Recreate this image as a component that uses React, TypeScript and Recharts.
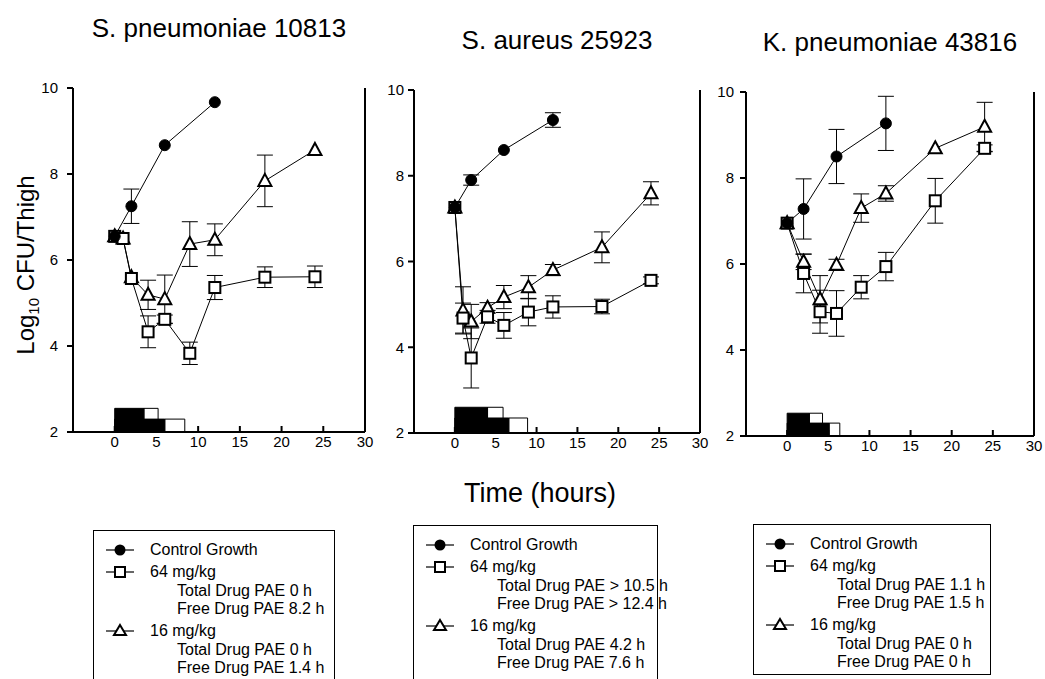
import React from 'react';
import {
  ComposedChart, Line, XAxis, YAxis, ReferenceArea, ReferenceLine, ErrorBar,
} from 'recharts';

const FONT = '"Liberation Sans", Arial, Helvetica, sans-serif';

const xTicks = [0, 5, 10, 15, 20, 25, 30];
const yTicks = [2, 4, 6, 8, 10];

// S. pneumoniae 10813
const spnCtrlT = [0, 2, 6, 12];
const spnCtrl = [6.55, 7.25, 8.67, 9.67];
const spnCtrlErr = [0, 0.4, 0, 0];
const spnT = [0, 1, 2, 4, 6, 9, 12, 18, 24];
const spn64 = [6.55, 6.5, 5.57, 4.33, 4.62, 3.83, 5.36, 5.6, 5.61];
const spn64Err = [0, 0, 0, 0.37, 0.1, 0.26, 0.28, 0.24, 0.25];
const spn16 = [6.55, 6.5, 5.6, 5.19, 5.09, 6.37, 6.47, 7.84, 8.56];
const spn16Err = [0, 0, 0, 0.34, 0.56, 0.52, 0.37, 0.6, 0];
// [black end, white end, height] for the upper and lower exposure bars
const spnBarHigh = [3.5, 5.2, 2.55];
const spnBarLow = [6, 8.4, 2.3];
const spn64Text = ['Total Drug PAE 0 h', 'Free Drug PAE 8.2 h'];
const spn16Text = ['Total Drug PAE 0 h', 'Free Drug PAE 1.4 h'];

// S. aureus 25923
const sauCtrlT = [0, 2, 6, 12];
const sauCtrl = [7.26, 7.9, 8.6, 9.3];
const sauCtrlErr = [0, 0.12, 0, 0.17];
const sauT = [0, 1, 2, 4, 6, 9, 12, 18, 24];
const sau64 = [7.26, 4.68, 3.75, 4.71, 4.51, 4.82, 4.94, 4.95, 5.56];
const sau64Err = [0, 0.35, 0.7, 0.15, 0.3, 0.32, 0.26, 0.17, 0.08];
const sau16 = [7.26, 4.86, 4.6, 4.92, 5.17, 5.4, 5.8, 6.33, 7.59];
const sau16Err = [0, 0.55, 0.4, 0.12, 0.27, 0.27, 0.13, 0.36, 0.27];
const sauBarHigh = [4, 5.9, 2.6];
const sauBarLow = [6.6, 8.9, 2.35];
const sau64Text = ['Total Drug PAE > 10.5 h', 'Free Drug PAE > 12.4 h'];
const sau16Text = ['Total Drug PAE 4.2 h', 'Free Drug PAE 7.6 h'];

// K. pneumoniae 43816
const kpnCtrlT = [0, 2, 6, 12];
const kpnCtrl = [6.95, 7.28, 8.5, 9.27];
const kpnCtrlErr = [0, 0.7, 0.63, 0.63];
const kpnT = [0, 2, 4, 6, 9, 12, 18, 24];
const kpn64 = [6.95, 5.78, 4.89, 4.85, 5.46, 5.94, 7.47, 8.69];
const kpn64Err = [0, 0.45, 0.5, 0.53, 0.27, 0.33, 0.52, 0.08];
const kpn16 = [6.95, 6.05, 5.18, 5.98, 7.3, 7.64, 8.69, 9.19];
const kpn16Err = [0, 0.18, 0.55, 0.13, 0.33, 0.18, 0, 0.57];
const kpnBarHigh = [2.7, 4.3, 2.53];
const kpnBarLow = [5.1, 6.4, 2.3];
const kpn64Text = ['Total Drug PAE 1.1 h', 'Free Drug PAE 1.5 h'];
const kpn16Text = ['Total Drug PAE 0 h', 'Free Drug PAE 0 h'];

const zip = (t: number[], v: number[], e: number[]) =>
  t.map((x, i) => ({ t: x, v: v[i], e: e[i] ? e[i] : null }));

const panels = [
  {
    title: 'S. pneumoniae 10813', titleTop: 13,
    plot: { left: 73, right: 365, top: 88, bottom: 432 }, yGap: 9,
    ctrl: zip(spnCtrlT, spnCtrl, spnCtrlErr),
    d64: zip(spnT, spn64, spn64Err), d16: zip(spnT, spn16, spn16Err),
    high: spnBarHigh, low: spnBarLow,
    legend: { left: 93, top: 530, width: 242, height: 160 },
    text64: spn64Text, text16: spn16Text,
  },
  {
    title: 'S. aureus 25923', titleTop: 25,
    plot: { left: 414, right: 700, top: 90, bottom: 433 }, yGap: 4,
    ctrl: zip(sauCtrlT, sauCtrl, sauCtrlErr),
    d64: zip(sauT, sau64, sau64Err), d16: zip(sauT, sau16, sau16Err),
    high: sauBarHigh, low: sauBarLow,
    legend: { left: 413, top: 525, width: 245, height: 160 },
    text64: sau64Text, text16: sau16Text,
  },
  {
    title: 'K. pneumoniae 43816', titleTop: 27,
    plot: { left: 746, right: 1034, top: 92, bottom: 436 }, yGap: 6,
    ctrl: zip(kpnCtrlT, kpnCtrl, kpnCtrlErr),
    d64: zip(kpnT, kpn64, kpn64Err), d16: zip(kpnT, kpn16, kpn16Err),
    high: kpnBarHigh, low: kpnBarLow,
    legend: { left: 753, top: 524, width: 238, height: 151 },
    text64: kpn64Text, text16: kpn16Text,
  },
];

const squareDot = (p: any) => (
  <rect key={p.index} x={p.cx - 5.5} y={p.cy - 5.5} width={11} height={11}
    fill="#fff" stroke="#000" strokeWidth={2} />
);

const triangleDot = (p: any) => (
  <path key={p.index}
    d={`M${p.cx},${p.cy - 7} L${p.cx + 6.5},${p.cy + 5} L${p.cx - 6.5},${p.cy + 5} Z`}
    fill="#fff" stroke="#000" strokeWidth={2} strokeLinejoin="miter" />
);

const XTick = (props: any) => {
  const { x, y, payload } = props;
  return (
    <g>
      <line x1={x} x2={x} y1={y - 4} y2={y - 10} stroke="#000" strokeWidth={2} />
      <text x={x} y={y} dy="0.72em" textAnchor="middle" fontSize={15}
        fontFamily={FONT} fill="#000">{payload.value}</text>
    </g>
  );
};

const Y_W = 45;
const M_TOP = 10;
const M_RIGHT = 14;
const X_H = 30;

function Panel({ p }: { p: typeof panels[number] }) {
  const w = p.plot.right - p.plot.left;
  const h = p.plot.bottom - p.plot.top;
  return (
    <div style={{ position: 'absolute', left: p.plot.left - Y_W, top: p.plot.top - M_TOP }}>
      <ComposedChart width={Y_W + w + M_RIGHT} height={M_TOP + h + X_H}
        margin={{ top: M_TOP, right: M_RIGHT, bottom: 0, left: 0 }}>
        <XAxis type="number" dataKey="t" domain={[-5, 30]} ticks={xTicks}
          allowDataOverflow height={X_H} tickSize={0} tickMargin={4}
          tickLine={false} tick={<XTick />}
          axisLine={{ stroke: '#000', strokeWidth: 2 }} />
        <YAxis type="number" domain={[2, 10]} ticks={yTicks} width={Y_W}
          allowDataOverflow tickSize={6} tickMargin={p.yGap}
          axisLine={{ stroke: '#000', strokeWidth: 2 }}
          tickLine={{ stroke: '#000', strokeWidth: 2 }}
          tick={{ fill: '#000', fontSize: 15, fontFamily: FONT }} />
        <ReferenceLine x={30} stroke="#000" strokeWidth={2} ifOverflow="visible" />
        <ReferenceArea x1={p.high[0]} x2={p.high[1]} y1={2} y2={p.high[2]}
          fill="#fff" fillOpacity={1} stroke="#000" strokeWidth={1} ifOverflow="visible" />
        <ReferenceArea x1={0} x2={p.high[0]} y1={2} y2={p.high[2]}
          fill="#000" fillOpacity={1} stroke="#000" strokeWidth={1} ifOverflow="visible" />
        <ReferenceArea x1={p.low[0]} x2={p.low[1]} y1={2} y2={p.low[2]}
          fill="#fff" fillOpacity={1} stroke="#000" strokeWidth={1} ifOverflow="visible" />
        <ReferenceArea x1={0} x2={p.low[0]} y1={2} y2={p.low[2]}
          fill="#000" fillOpacity={1} stroke="#000" strokeWidth={1} ifOverflow="visible" />
        <Line data={p.d16} dataKey="v" stroke="#000" strokeWidth={1} type="linear"
          dot={triangleDot} isAnimationActive={false}>
          <ErrorBar dataKey="e" width={8} stroke="#000" strokeWidth={1} direction="y" />
        </Line>
        <Line data={p.d64} dataKey="v" stroke="#000" strokeWidth={1} type="linear"
          dot={squareDot} isAnimationActive={false}>
          <ErrorBar dataKey="e" width={8} stroke="#000" strokeWidth={1} direction="y" />
        </Line>
        <Line data={p.ctrl} dataKey="v" stroke="#000" strokeWidth={1} type="linear"
          dot={{ r: 5.5, fill: '#000', stroke: '#000', strokeWidth: 1 }}
          isAnimationActive={false}>
          <ErrorBar dataKey="e" width={8} stroke="#000" strokeWidth={1} direction="y" />
        </Line>
      </ComposedChart>
    </div>
  );
}

const rowTops = [19, 41, 60, 78, 100, 119, 137];

const LegendSymbol = ({ kind }: { kind: string }) => (
  <svg width={32} height={16} style={{ position: 'absolute', left: 10, top: -8 }}>
    <line x1={2} x2={30} y1={8} y2={8} stroke="#000" strokeWidth={1.2} />
    {kind === 'circle' && <circle cx={16} cy={8} r={5.5} fill="#000" />}
    {kind === 'square' && (
      <rect x={11} y={3} width={10} height={10} fill="#fff" stroke="#000" strokeWidth={2} />
    )}
    {kind === 'triangle' && (
      <path d="M16,2 L22,12 L10,12 Z" fill="#fff" stroke="#000" strokeWidth={2} />
    )}
  </svg>
);

function LegendBox({ p }: { p: typeof panels[number] }) {
  const rows: { text: string; indent: boolean; kind?: string }[] = [
    { text: 'Control Growth', indent: false, kind: 'circle' },
    { text: '64 mg/kg', indent: false, kind: 'square' },
    { text: p.text64[0], indent: true },
    { text: p.text64[1], indent: true },
    { text: '16 mg/kg', indent: false, kind: 'triangle' },
    { text: p.text16[0], indent: true },
    { text: p.text16[1], indent: true },
  ];
  return (
    <div style={{
      position: 'absolute', left: p.legend.left, top: p.legend.top,
      width: p.legend.width, height: p.legend.height, border: '1px solid #000',
      boxSizing: 'border-box', background: '#fff',
    }}>
      {rows.map((r, i) => (
        <div key={i} style={{ position: 'absolute', left: 0, top: rowTops[i], width: '100%' }}>
          {r.kind && <LegendSymbol kind={r.kind} />}
          <div style={{
            position: 'absolute', left: r.indent ? 83 : 56, top: -10, height: 20,
            lineHeight: '20px', fontSize: 16, whiteSpace: 'nowrap',
          }}>{r.text}</div>
        </div>
      ))}
    </div>
  );
}

export default function App() {
  return (
    <div style={{
      position: 'absolute', left: 0, top: 0, width: 1045, height: 679,
      overflow: 'hidden', background: '#fff', fontFamily: FONT, color: '#000',
    }}>
      {panels.map((p, i) => (
        <div key={i} style={{
          position: 'absolute', left: (p.plot.left + p.plot.right) / 2 - 200, width: 400,
          top: p.titleTop, textAlign: 'center', fontSize: 26, lineHeight: '30px',
        }}>{p.title}</div>
      ))}
      <div style={{
        position: 'absolute', left: 27, top: 265, whiteSpace: 'nowrap', fontSize: 24,
        transform: 'translate(-50%, -50%) rotate(-90deg)',
      }}>
        Log<sub style={{ fontSize: 15 }}>10</sub> CFU/Thigh
      </div>
      {panels.map((p, i) => <Panel key={i} p={p} />)}
      <div style={{
        position: 'absolute', left: 340, width: 400, top: 478, textAlign: 'center',
        fontSize: 27, lineHeight: '30px',
      }}>Time (hours)</div>
      {panels.map((p, i) => <LegendBox key={i} p={p} />)}
    </div>
  );
}
